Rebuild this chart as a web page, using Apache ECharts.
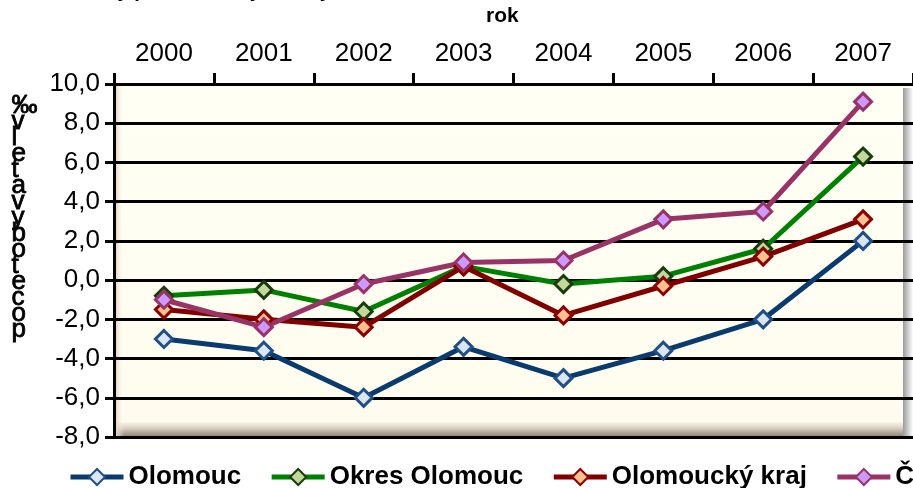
<!DOCTYPE html>
<html>
<head>
<meta charset="utf-8">
<script src="https://cdn.jsdelivr.net/npm/echarts@6/dist/echarts.min.js"></script>
<style>
  html, body { margin: 0; padding: 0; background: #ffffff; }
  #myChart { width: 913px; height: 488px; }
</style>
</head>
<body>
<div id="myChart"></div>
<script>
// kategorie (roky)
var roky = ['2000', '2001', '2002', '2003', '2004', '2005', '2006', '2007'];
// hodnoty v ‰
var olomouc = [-3.0, -3.6, -6.0, -3.4, -5.0, -3.6, -2.0, 2.0];
var okresOlomouc = [-0.8, -0.5, -1.6, 0.7, -0.2, 0.2, 1.6, 6.3];
var olomouckyKraj = [-1.5, -2.0, -2.4, 0.7, -1.8, -0.3, 1.2, 3.1];
var cr = [-1.0, -2.4, -0.2, 0.9, 1.0, 3.1, 3.5, 9.1];
// osa y
var yMin = -8, yMax = 10, yKrok = 2;

var GRID_LEFT = 114, GRID_TOP = 84, GRID_RIGHT = -6, GRID_H = 353;
var FONT = '"Liberation Sans", Arial, sans-serif';

function rada(nazev, data, barva, okraj, vypln) {
    return {
        name: nazev,
        type: 'line',
        data: data,
        symbol: 'diamond',
        symbolSize: 17,
        lineStyle: { color: barva, width: 5 },
        itemStyle: { color: vypln, borderColor: okraj, borderWidth: 3 },
        emphasis: { disabled: true },
        animation: false
    };
}

var myChart = echarts.init(document.getElementById('myChart'));
var option = {
    backgroundColor: '#ffffff',
    textStyle: { fontFamily: FONT },
    graphic: [
        // levy okraj plochy grafu (zkoseni)
        {
            type: 'rect', z: 0, silent: true,
            shape: { x: GRID_LEFT + 1, y: GRID_TOP, width: 9, height: GRID_H },
            style: {
                fill: new echarts.graphic.LinearGradient(0, 0, 1, 0, [
                    { offset: 0, color: '#e2cdbf' },
                    { offset: 1, color: 'rgba(255,255,242,0)' }
                ])
            }
        },
        // pravy stin
        {
            type: 'rect', z: 0, silent: true,
            shape: { x: 903, y: GRID_TOP + 4, width: 10, height: GRID_H - 4 },
            style: {
                fill: new echarts.graphic.LinearGradient(0, 0, 1, 0, [
                    { offset: 0, color: '#9a9a9a' },
                    { offset: 1, color: '#ffffff' }
                ])
            }
        },
        // orezany nadpis
        {
            type: 'text', left: 52, top: -19, silent: true,
            style: {
                text: 'Celkový přírůstek/úbytek obyvatelstva',
                font: 'bold 20px ' + FONT, fill: '#000000'
            }
        },
        {
            type: 'text', left: 486, top: 6, silent: true,
            style: { text: 'rok', font: 'bold 21px ' + FONT, fill: '#000000' }
        },
        {
            type: 'text', left: 11, top: 92, silent: true,
            style: {
                text: '‰\nv\nl\ne\nt\na\nv\ny\nb\no\nt\ne\nc\no\np',
                font: '26px ' + FONT, lineHeight: 16, fill: '#000000',
                stroke: '#000000', lineWidth: 0.8
            }
        }
    ],
    grid: {
        left: GRID_LEFT,
        top: GRID_TOP,
        right: GRID_RIGHT,
        height: GRID_H,
        show: true,
        borderWidth: 0,
        backgroundColor: new echarts.graphic.LinearGradient(0, 0, 0, 1, [
            { offset: 0, color: '#fffff4' },
            { offset: 0.955, color: '#fffcef' },
            { offset: 0.975, color: '#d8cfc0' },
            { offset: 1, color: '#8a8072' }
        ])
    },
    legend: {
        left: 63,
        top: 459,
        width: 1000,
        itemWidth: 53,
        itemHeight: 20,
        itemGap: 28,
        data: ['Olomouc', 'Okres Olomouc', 'Olomoucký kraj', 'ČR'],
        lineStyle: { width: 5 },
        textStyle: { fontSize: 26, fontWeight: 'bold', color: '#000000', fontFamily: FONT }
    },
    xAxis: {
        type: 'category',
        position: 'top',
        data: roky,
        boundaryGap: true,
        axisLine: { show: true, onZero: false, lineStyle: { color: '#000000', width: 3 } },
        axisTick: { show: true, length: 11, lineStyle: { color: '#000000', width: 3 } },
        axisLabel: { fontSize: 26, color: '#000000', margin: 17, fontFamily: FONT },
        splitLine: { show: false }
    },
    yAxis: {
        type: 'value',
        min: yMin,
        max: yMax,
        interval: yKrok,
        axisLine: { show: true, lineStyle: { color: '#000000', width: 3 } },
        axisTick: { show: true, length: 9, lineStyle: { color: '#000000', width: 3 } },
        axisLabel: {
            fontSize: 26, color: '#000000', margin: 14, fontFamily: FONT,
            formatter: function (v) { return v.toFixed(1).replace('.', ','); }
        },
        splitLine: { show: true, lineStyle: { color: '#000000', width: 3 } }
    },
    series: [
        rada('Olomouc', olomouc, '#0a3b6e', '#1f4f86', '#dce6f2'),
        rada('Okres Olomouc', okresOlomouc, '#008000', '#173d0c', '#c4d79b'),
        rada('Olomoucký kraj', olomouckyKraj, '#800000', '#8b0000', '#fac090'),
        rada('ČR', cr, '#993366', '#993366', '#cc99ff')
    ]
};
myChart.setOption(option);
window.addEventListener('resize', myChart.resize);
</script>
</body>
</html>
